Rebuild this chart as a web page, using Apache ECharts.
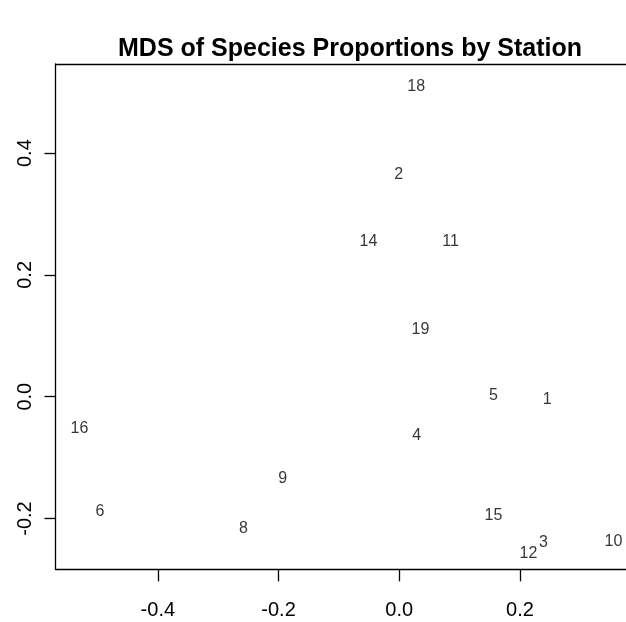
<!DOCTYPE html>
<html>
<head>
<meta charset="utf-8">
<script src="https://cdn.jsdelivr.net/npm/echarts@6/dist/echarts.min.js"></script>
<style>
html,body{margin:0;padding:0;background:#fff;}
#main{width:626px;height:622px;}
</style>
</head>
<body>
<div id="main"></div>
<script>
// Station labels and MDS coordinates
var stations = ['18','2','14','11','19','5','1','4','15','12','3','10','16','6','9','8'];
var dim1 = [0.028,-0.001,-0.051,0.085,0.035,0.156,0.245,0.029,0.156,0.214,0.239,0.355,-0.530,-0.496,-0.193,-0.258];
var dim2 = [0.510,0.365,0.255,0.255,0.110,0.002,-0.005,-0.064,-0.196,-0.258,-0.240,-0.238,-0.052,-0.188,-0.135,-0.217];
var xTicks = [-0.4,-0.2,0.0,0.2];
var yTicks = [-0.2,0.0,0.2,0.4];

var points = stations.map(function(s,i){ return {name:s, value:[dim1[i], dim2[i]]}; });
var FONT = '"Liberation Sans", Arial, Helvetica, sans-serif';
var XMIN = -0.5696, XMAX = 0.3757;

var chart = echarts.init(document.getElementById('main'), null, {renderer:'canvas'});
chart.setOption({
  backgroundColor:'#ffffff',
  animation:false,
  title:{
    text:'MDS of Species Proportions by Station',
    left:345, top:32, textAlign:'center',
    textStyle:{fontFamily:FONT, fontSize:25, fontWeight:'bold', color:'#000'}
  },
  grid:{
    left:55.5, top:64, right:0, height:505.3,
    show:false
  },
  xAxis:[{
    type:'value', min:XMIN, max:XMAX, position:'bottom',
    axisLine:{show:true, onZero:false, lineStyle:{color:'#000', width:1.3}},
    splitLine:{show:false},
    axisTick:{show:true, customValues:xTicks, length:12, lineStyle:{color:'#000', width:1.3}},
    axisLabel:{show:true, customValues:xTicks, margin:31, fontFamily:FONT, fontSize:20, color:'#000',
      formatter:function(v){ return v.toFixed(1); }}
  },{
    type:'value', min:XMIN, max:XMAX, position:'top',
    axisLine:{show:true, onZero:false, lineStyle:{color:'#000', width:1.3}},
    splitLine:{show:false}, axisTick:{show:false}, axisLabel:{show:false}
  }],
  yAxis:{
    type:'value', min:-0.2834, max:0.5463,
    axisLine:{show:true, onZero:false, lineStyle:{color:'#000', width:1.3}},
    splitLine:{show:false},
    axisTick:{show:true, customValues:yTicks, length:11, lineStyle:{color:'#000', width:1.3}},
    axisLabel:{show:true, customValues:yTicks, rotate:90, margin:20, fontFamily:FONT, fontSize:20, color:'#000',
      formatter:function(v){ return v.toFixed(1); }}
  },
  series:[{
    type:'scatter',
    data:points,
    symbolSize:1,
    itemStyle:{color:'rgba(0,0,0,0)'},
    label:{show:true, position:'inside', formatter:'{b}', fontFamily:FONT, fontSize:16, color:'#000'}
  }]
});
</script>
</body>
</html>
